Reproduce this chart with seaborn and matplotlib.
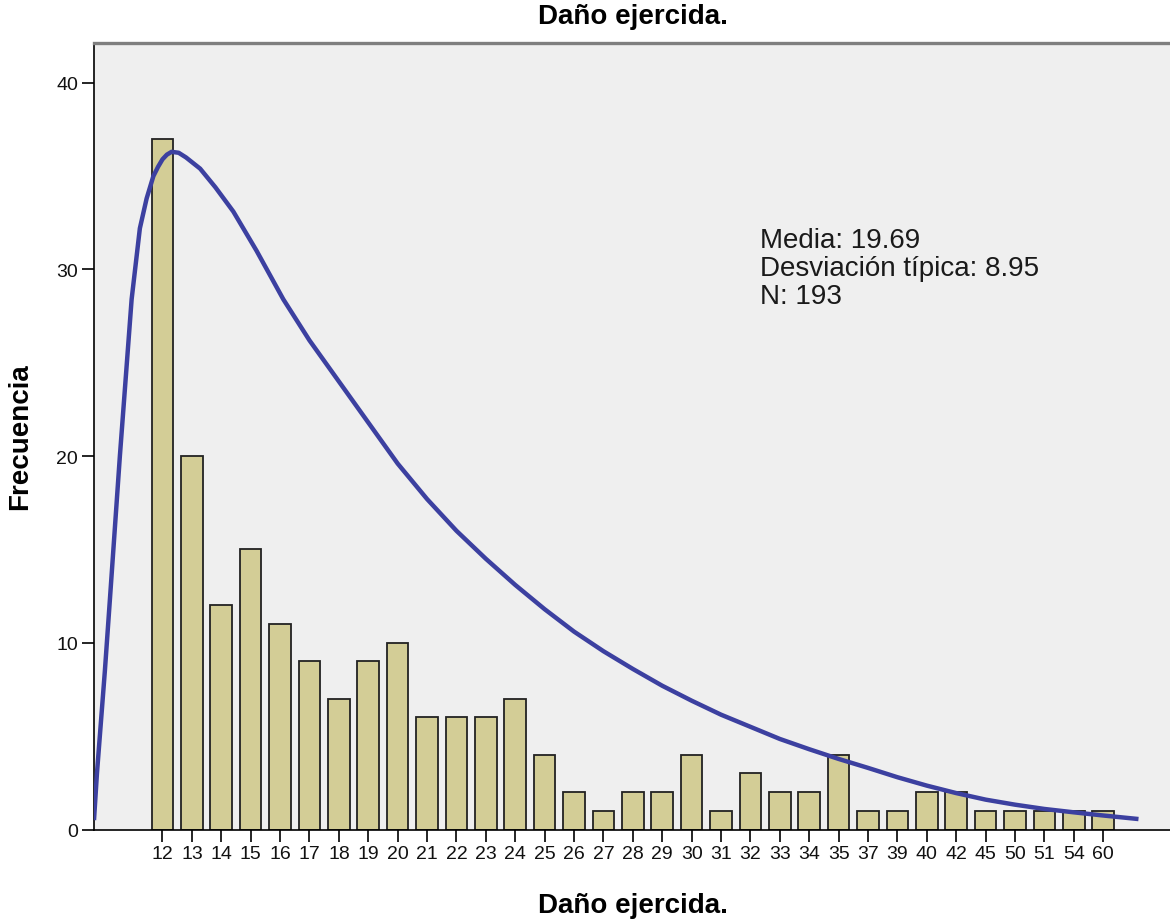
import matplotlib
matplotlib.use('Agg')
import matplotlib.pyplot as plt
import seaborn as sns
import pandas as pd

# ---- data ----
categories = ['12', '13', '14', '15', '16', '17', '18', '19', '20', '21', '22',
              '23', '24', '25', '26', '27', '28', '29', '30', '31', '32', '33',
              '34', '35', '37', '39', '40', '42', '45', '50', '51', '54', '60']
frequencies = [37, 20, 12, 15, 11, 9, 7, 9, 10, 6, 6,
               6, 7, 4, 2, 1, 2, 2, 4, 1, 3, 2,
               2, 4, 1, 1, 2, 2, 1, 1, 1, 1, 1]

# fitted curve (position on category axis, frequency)
curve_pos = [-2.33, -2.23, -1.96, -1.79, -1.45, -1.05, -0.77, -0.54, -0.31,
             -0.15, 0.0, 0.15, 0.31, 0.55, 0.8, 1.28, 1.8, 2.41, 3.2, 4.11,
             5.0, 6.0, 7.0, 8.0, 9.0, 10.0, 11.0, 12.0, 13.0, 14.0, 15.0,
             16.0, 17.0, 18.0, 19.0, 20.0, 21.0, 22.0, 23.0, 24.0, 25.0,
             26.0, 27.0, 28.0, 29.0, 30.0, 31.0, 32.0, 33.2]
curve_freq = [0.5, 3.0, 8.5, 12.3, 20.0, 28.4, 32.2, 33.8, 35.0,
              35.5, 35.9, 36.15, 36.3, 36.25, 36.0, 35.4, 34.4, 33.1, 31.0, 28.4,
              26.2, 24.0, 21.8, 19.6, 17.7, 16.0, 14.5, 13.1, 11.8, 10.6, 9.55,
              8.6, 7.7, 6.9, 6.15, 5.5, 4.85, 4.3, 3.78, 3.3, 2.8,
              2.35, 1.95, 1.6, 1.33, 1.1, 0.92, 0.75, 0.56]

y_ticks = [0, 10, 20, 30, 40]

title = 'Daño ejercida.'
x_label = 'Daño ejercida.'
y_label = 'Frecuencia'
stats_text = 'Media: 19.69\nDesviación típica: 8.95\nN: 193'

# ---- style ----
sns.set_theme(style='ticks')
plt.rcParams['font.family'] = ['Liberation Sans', 'DejaVu Sans']

W, H = 1170, 920
fig = plt.figure(figsize=(W / 100, H / 100), dpi=100)
fig.patch.set_facecolor('white')

left_px, right_px, top_px, bottom_px = 94, 1172, 44, 830.5
ax = fig.add_axes([left_px / W, 1 - bottom_px / H,
                   (right_px - left_px) / W, (bottom_px - top_px) / H])
ax.set_facecolor('#efefef')

df = pd.DataFrame({'cat': categories, 'freq': frequencies})
sns.barplot(data=df, x='cat', y='freq', order=categories, color='#d3cd96',
            saturation=1, width=0.735, edgecolor='#222222', linewidth=1.3,
            ax=ax, zorder=2)

ax.plot(curve_pos, curve_freq, color='#3c40a0', lw=3.2, zorder=3,
        solid_capstyle='butt', solid_joinstyle='round')

ax.set_xlim(-2.33, 34.34)
ax.set_ylim(0, 42.13)
ax.set_yticks(y_ticks)
ax.set_xlabel('')
ax.set_ylabel('')

for s in ['left', 'bottom']:
    ax.spines[s].set_color('black')
    ax.spines[s].set_linewidth(1.2)
ax.spines['top'].set_visible(True)
ax.spines['top'].set_color('#7f7f7f')
ax.spines['top'].set_linewidth(2.4)
ax.spines['right'].set_visible(False)

ax.tick_params(axis='both', direction='out', length=8.5, width=1.2,
               color='black', labelsize=14, labelcolor='#111111', pad=3)
ax.tick_params(axis='x', bottom=True, top=False)
ax.tick_params(axis='y', left=True, right=False)
ax.grid(False)

fig.text(633 / W, 1 - 24 / H, title, ha='center', va='baseline',
         fontsize=20, fontweight='bold', color='black')
fig.text(633 / W, 1 - 913 / H, x_label, ha='center', va='baseline',
         fontsize=20, fontweight='bold', color='black')
fig.text(20 / W, 1 - 437 / H, y_label, ha='center', va='center',
         rotation=90, fontsize=20, fontweight='bold', color='black')

fig.text(760 / W, 1 - 228 / H, stats_text, ha='left', va='top',
         fontsize=20, linespacing=1.1, color='#1a1a1a')

fig.savefig('out.png', dpi=100, facecolor='white')
